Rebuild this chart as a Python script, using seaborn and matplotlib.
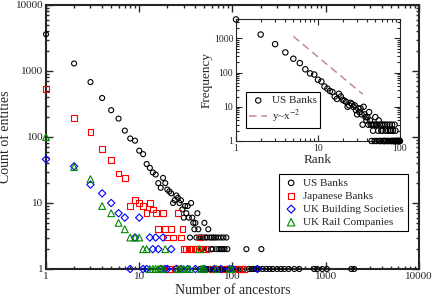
import matplotlib
matplotlib.use("Agg")
import matplotlib.pyplot as plt
import matplotlib.ticker as ticker
import seaborn as sns

# US banks: number of ancestors -> count of entities
us_x = [1, 2, 3, 4, 5, 6, 7, 8, 9, 10, 11, 12, 13, 14, 15, 16, 17, 18, 19, 20,
        21, 22, 23, 24, 25, 26, 27, 28, 29, 30, 31, 32, 33, 34, 35, 36, 37, 38, 39, 40,
        41, 42, 43, 44, 45, 46, 47, 48, 49, 50, 51, 52, 53, 54, 55, 56, 57, 58, 59, 60,
        61, 62, 63, 64, 65, 66, 67, 68, 70, 71, 72, 73, 75, 76, 77, 78, 79, 80, 81, 82,
        83, 85, 86, 87, 88, 89, 90, 92, 93, 95, 97, 98, 100,
        110, 120, 130, 141, 150, 160, 170, 180, 190, 204, 210, 230, 250, 270, 300, 330,
        360, 400, 460, 520, 750, 810, 920, 1030, 1880, 2020]
us_y = [3600, 1300, 680, 390, 255, 190, 125, 95, 88, 62, 55, 39, 34, 29, 27, 20, 17, 24, 20, 16,
        15, 14, 10, 11, 13, 12, 10, 11, 8, 6, 9, 7, 9, 6, 3, 10, 6, 5, 4, 5,
        3, 7, 4, 3, 1, 3, 2, 3, 1, 5, 3, 1, 3, 2, 4, 1, 3, 1, 2, 3,
        2, 1, 3, 1, 1, 3, 2, 1, 3, 1, 2, 1, 3, 2, 1, 2, 1, 3, 1, 2,
        1, 1, 3, 1, 2, 1, 1, 1, 1, 1, 1, 1, 1,
        1, 1, 1, 2, 1, 1, 1, 1, 1, 2, 1, 1, 1, 1, 1, 1,
        1, 1, 1, 1, 1, 1, 1, 1, 1, 1]

# Japanese banks
jp_x = [1, 2, 3, 4, 5, 6, 7, 8, 9, 10, 11, 12, 13, 14, 15, 16, 17, 18, 19, 20,
        21, 22, 23, 24, 25, 26, 27, 28, 29, 30, 32, 34, 36, 38, 40, 44, 45, 48, 52,
        60, 70, 80, 95, 118, 126, 134]
jp_y = [540, 195, 120, 65, 45, 28, 24, 9, 11, 10, 9, 7, 10, 8, 7, 4, 1, 7, 4, 3,
        1, 4, 3, 1, 1, 7, 1, 3, 4, 2, 2, 2, 2, 2, 2, 2, 3, 2, 2,
        1, 1, 1, 1, 1, 1, 1]

# UK building societies
bs_x = [1, 2, 3, 4, 5, 6, 7, 8, 9, 10, 11, 12, 13, 14, 15, 16, 17, 18, 19, 20, 22,
        25, 28, 33, 40, 50, 64, 75, 93, 100, 185]
bs_y = [46, 36, 19, 14, 10, 7, 6, 1, 3, 6, 1, 1, 3, 2, 3, 2, 1, 3, 1, 1, 2,
        1, 1, 1, 1, 1, 1, 1, 1, 1, 1]

# UK rail companies
rail_x = [1, 2, 3, 4, 5, 6, 7, 8, 9, 10, 11, 12, 13, 14, 15, 16, 17, 18, 19, 26,
          28, 30, 33, 35, 44, 46, 48, 50, 67, 93, 98]
rail_y = [100, 35, 23, 9, 7, 5, 4, 3, 3, 3, 2, 2, 1, 1, 1, 1, 1, 1, 2, 1,
          1, 1, 1, 1, 2, 1, 1, 1, 1, 1, 1]

# guide line for the inset, y ~ x^-2 (two end points)
guide_x = [5, 35]
guide_y = [1150, 23.5]

sns.set_style("ticks")
plt.rcParams["font.family"] = ["Liberation Serif", "DejaVu Serif"]
plt.rcParams["mathtext.fontset"] = "stix"

fig = plt.figure(figsize=(4.35, 2.97), dpi=100)
W, H = 435.0, 297.0
ax = fig.add_axes([46 / W, 1 - 269 / H, 373 / W, 264 / H])


def open_points(axis, x, y, marker, color, size, label):
    sns.scatterplot(x=x, y=y, ax=axis, marker=marker, s=size, color=color,
                    facecolor="none", edgecolor=color, linewidth=0.8, label=label,
                    clip_on=False, zorder=3, legend=False)


open_points(ax, us_x, us_y, "o", "black", 13, "US Banks")
open_points(ax, jp_x, jp_y, "s", "red", 17, "Japanese Banks")
open_points(ax, bs_x, bs_y, "D", "blue", 14, "UK Building Societies")
open_points(ax, rail_x, rail_y, "^", "#008b00", 24, "UK Rail Companies")

fmt = ticker.FuncFormatter(lambda v, p: f"{v:g}")
ax.set_xscale("log")
ax.set_yscale("log")
ax.set_xlim(1, 10000)
ax.set_ylim(1, 10000)
for a in (ax.xaxis, ax.yaxis):
    a.set_major_locator(ticker.LogLocator(base=10))
    a.set_minor_locator(ticker.LogLocator(base=10, subs=range(2, 10)))
    a.set_major_formatter(fmt)
    a.set_minor_formatter(ticker.NullFormatter())
ax.tick_params(which="both", direction="in", top=True, right=True, labelsize=8,
               pad=2, width=1)
ax.tick_params(which="major", length=5)
ax.tick_params(which="minor", length=2.5)
for s in ax.spines.values():
    s.set_linewidth(1.5)
ax.set_xlabel("Number of ancestors", fontsize=10)
ax.set_ylabel("Count of entities", fontsize=10)
ax.xaxis.set_label_coords(0.5, -(284 - 269) / 264.0)
ax.yaxis.set_label_coords(-(46 - 12) / 373.0, 0.5)

leg = ax.legend(loc="lower right", bbox_to_anchor=(408 / W, 1 - 231 / H),
                bbox_transform=fig.transFigure, fontsize=8, frameon=True,
                fancybox=False, edgecolor="black", framealpha=1,
                borderpad=0.35, labelspacing=0.3, handletextpad=0.4,
                handlelength=1.4, borderaxespad=0, markerscale=1.1)
leg.get_frame().set_linewidth(0.8)

# inset: same US banks data against rank
ins = fig.add_axes([236 / W, 1 - 141 / H, 164 / W, 122 / H])
ins_x = [v for v in us_x if v <= 100]
ins_y = us_y[:len(ins_x)]
open_points(ins, ins_x, ins_y, "o", "black", 15, "US Banks")
sns.lineplot(x=guide_x, y=guide_y, ax=ins, color="#bc8f8f",
             linestyle=(0, (5, 3)), linewidth=1.1, label="y~x$^{-2}$", legend=False)
ins.set_xscale("log")
ins.set_yscale("log")
ins.set_xlim(1, 100)
ins.set_ylim(1, 3700)
for a in (ins.xaxis, ins.yaxis):
    a.set_major_locator(ticker.LogLocator(base=10))
    a.set_minor_locator(ticker.LogLocator(base=10, subs=range(2, 10)))
    a.set_major_formatter(fmt)
    a.set_minor_formatter(ticker.NullFormatter())
ins.tick_params(which="both", direction="in", top=True, right=True, labelsize=7,
                pad=2, width=0.8)
ins.tick_params(which="major", length=4)
ins.tick_params(which="minor", length=2)
for s in ins.spines.values():
    s.set_linewidth(0.8)
ins.set_xlabel("Rank", fontsize=9.5, labelpad=1)
ins.set_ylabel("Frequency", fontsize=9.5, labelpad=1)
ileg = ins.legend(loc="lower left", bbox_to_anchor=(246 / W, 1 - 128 / H),
                  bbox_transform=fig.transFigure, fontsize=8, frameon=True,
                  fancybox=False, edgecolor="black", framealpha=1,
                  borderpad=0.3, labelspacing=0.2, handletextpad=0.4,
                  handlelength=1.6, borderaxespad=0)
ileg.get_frame().set_linewidth(0.8)

fig.savefig("out.png", dpi=100)
